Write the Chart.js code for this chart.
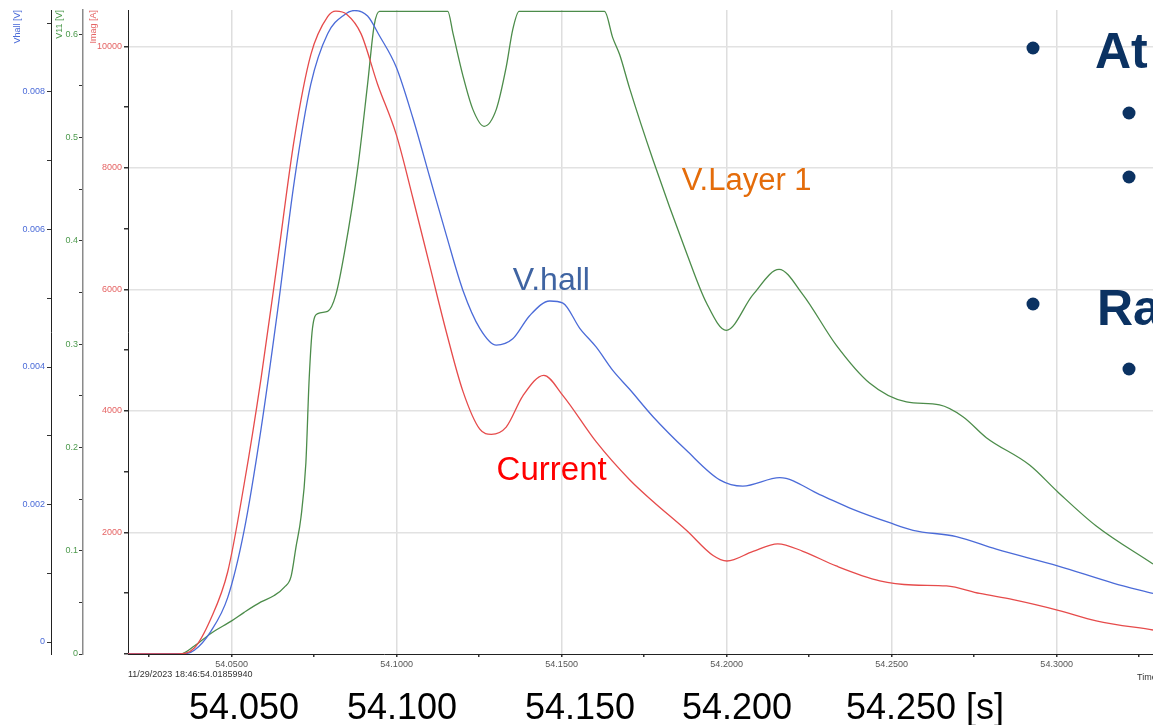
<!DOCTYPE html>
<html>
<head>
<meta charset="utf-8">
<script src="https://cdn.jsdelivr.net/npm/chart.js@4.4.1/dist/chart.umd.min.js"></script>
<style>
  html, body { margin: 0; padding: 0; background: #fff; }
  #wrap { width: 1153px; height: 725px; }
</style>
</head>
<body>
<div id="wrap"><canvas id="pulseChart" width="1153" height="725"></canvas></div>
<script>
// readings taken off the scope screenshot
const currentTime = [54.0185, 54.0336, 54.0387, 54.0437, 54.0488, 54.0538, 54.0589, 54.0639, 54.0690, 54.0740,
  54.0791, 54.0816, 54.0850, 54.0892, 54.0942, 54.0999, 54.1049, 54.1100, 54.1151, 54.1201, 54.1252, 54.1287,
  54.1332, 54.1383, 54.1446, 54.1504, 54.1605, 54.1706, 54.1777, 54.1878, 54.1959, 54.2001, 54.2080, 54.2155,
  54.2231, 54.2332, 54.2464, 54.2565, 54.2666, 54.2767, 54.2868, 54.3005, 54.3120, 54.3292];
const currentAmps = [0, 0, 99, 581, 1350, 2798, 4530, 6470, 8480, 9865,
  10490, 10580, 10523, 10211, 9383, 8548, 7510, 6400, 5292, 4323, 3700, 3616,
  3735, 4253, 4586, 4253, 3490, 2868, 2510, 2036, 1620, 1531, 1690, 1814,
  1690, 1449, 1205, 1136, 1121, 997, 894, 719, 547, 395];

const vhallTime = [54.0185, 54.0357, 54.0387, 54.0437, 54.0488, 54.0538, 54.0589, 54.0639, 54.0690, 54.0740,
  54.0791, 54.0842, 54.0872, 54.0912, 54.0948, 54.0999, 54.1049, 54.1100, 54.1151, 54.1201, 54.1252, 54.1302,
  54.1352, 54.1403, 54.1464, 54.1504, 54.1555, 54.1605, 54.1655, 54.1706, 54.1777, 54.1878, 54.1979, 54.2049,
  54.2161, 54.2282, 54.2383, 54.2494, 54.2565, 54.2696, 54.2817, 54.3005, 54.3171, 54.3292];
const vhallVolts = [-0.00017, -0.00017, -0.00012, 0.000156, 0.000646, 0.001625, 0.003094, 0.004809, 0.006705, 0.008113,
  0.008848, 0.009125, 0.009185, 0.009105, 0.008818, 0.00836, 0.007625, 0.006767, 0.00591, 0.005114, 0.004563, 0.004319,
  0.00441, 0.004746, 0.00496, 0.00493, 0.004563, 0.004288, 0.00395, 0.003676, 0.003277, 0.002788, 0.002359, 0.002268,
  0.00239, 0.002145, 0.00193, 0.001735, 0.001625, 0.001533, 0.00135, 0.001105, 0.000858, 0.000707];

const v11Time = [54.0185, 54.0345, 54.0387, 54.0437, 54.0500, 54.0538, 54.0589, 54.0629, 54.0660, 54.0680,
  54.0695, 54.0710, 54.0725, 54.0735, 54.0745, 54.0761, 54.0791, 54.0816, 54.0842, 54.0882, 54.0912, 54.0932,
  54.0948, 54.1155, 54.1171, 54.1201, 54.1231, 54.1265, 54.1302, 54.1332, 54.1352, 54.1371, 54.1630, 54.1655,
  54.1676, 54.1706, 54.1777, 54.1878, 54.1939, 54.1999, 54.2080, 54.2159, 54.2231, 54.2332, 54.2433, 54.2545,
  54.2645, 54.2716, 54.2787, 54.2918, 54.3005, 54.3120, 54.3292];
const v11Volts = [0, 0, 0.0077, 0.0199, 0.0321, 0.0403, 0.0504, 0.0566, 0.0648, 0.0749,
  0.1035, 0.1319, 0.1849, 0.2664, 0.3153, 0.3295, 0.3317, 0.3479, 0.3887, 0.4701, 0.5516, 0.6086,
  0.622, 0.622, 0.6005, 0.5597, 0.5272, 0.5108, 0.5272, 0.568, 0.6046, 0.622, 0.622, 0.5964,
  0.580, 0.5475, 0.4782, 0.3887, 0.3398, 0.3133, 0.3479, 0.3723, 0.3479, 0.299, 0.2623, 0.244,
  0.2411, 0.2297, 0.2094, 0.1829, 0.1564, 0.1239, 0.0871];

// Imag axis ticks (labelled every 2000)
const imagTickValues = [0, 1000, 2000, 3000, 4000, 5000, 6000, 7000, 8000, 9000, 10000];

// in-plot captions, placed in time / amps
const captionText = ['V.Layer 1', 'V.hall', 'Current'];
const captionTime = [54.1864, 54.1352, 54.1303];
const captionAmps = [7638, 5992, 2864];

const bigTimeLabels = ['54.050', '54.100', '54.150', '54.200', '54.250 [s]'];
const timestampText = '11/29/2023 18:46:54.01859940';

const RED = '#e64b4b';
const BLUE = '#4b6bd8';
const GREEN = '#4c8c4a';
const NAVY = '#0b3262';
const smallFont = { family: '"Liberation Sans", Arial, sans-serif', size: 9 };

function pts(xs, ys) {
    return xs.map((x, i) => ({ x: x, y: ys[i] }));
}

const overlayPlugin = {
    id: 'overlay',
    afterDraw(chart) {
        const { ctx, scales } = chart;
        ctx.save();

        // series captions
        const capColors = ['#e46c0a', '#3f64a2', '#ff0000'];
        const capSizes = [31, 32, 33];
        ctx.textAlign = 'left';
        ctx.textBaseline = 'alphabetic';
        captionText.forEach((t, i) => {
            ctx.font = capSizes[i] + 'px "Liberation Sans", Arial, sans-serif';
            ctx.fillStyle = capColors[i];
            ctx.fillText(t, scales.x.getPixelForValue(captionTime[i]), scales.yImag.getPixelForValue(captionAmps[i]));
        });

        // footer texts
        ctx.font = '9px "Liberation Sans", Arial, sans-serif';
        ctx.fillStyle = '#333';
        ctx.textBaseline = 'middle';
        ctx.fillText(timestampText, 128, 675);
        ctx.fillText('Time [s]', 1137, 678);

        ctx.font = '36px "Liberation Sans", Arial, sans-serif';
        ctx.fillStyle = '#000';
        ctx.textBaseline = 'alphabetic';
        const bigX = [189, 347, 525, 682, 846];
        bigTimeLabels.forEach((t, i) => ctx.fillText(t, bigX[i], 719));

        // slide bullets on the right
        ctx.fillStyle = NAVY;
        [[1033, 48], [1033, 304], [1129, 113], [1129, 177], [1129, 369]].forEach(p => {
            ctx.beginPath(); ctx.arc(p[0], p[1], 6.5, 0, Math.PI * 2); ctx.fill();
        });
        ctx.font = 'bold 50px "Liberation Sans", Arial, sans-serif';
        ctx.fillText('At', 1095, 68);
        ctx.fillText('Ra', 1097, 325);

        ctx.restore();
    }
};

new Chart(document.getElementById('pulseChart'), {
    type: 'line',
    data: {
        datasets: [
            { label: 'Imag', data: pts(currentTime, currentAmps), yAxisID: 'yImag', borderColor: RED },
            { label: 'Vhall', data: pts(vhallTime, vhallVolts), yAxisID: 'yVhall', borderColor: BLUE },
            { label: 'V11', data: pts(v11Time, v11Volts), yAxisID: 'yV11', borderColor: GREEN }
        ]
    },
    options: {
        responsive: false,
        animation: false,
        layout: { padding: { top: 10, left: 0, right: 0, bottom: 0 } },
        elements: {
            point: { radius: 0 },
            line: { borderWidth: 1.3, cubicInterpolationMode: 'monotone', fill: false }
        },
        plugins: {
            legend: { display: false },
            tooltip: { enabled: false }
        },
        scales: {
            x: {
                type: 'linear',
                min: 54.0186,
                max: 54.3292,
                ticks: {
                    stepSize: 0.025,
                    includeBounds: false,
                    autoSkip: false,
                    maxRotation: 0,
                    padding: 2,
                    color: '#555',
                    font: smallFont,
                    callback: v => (Math.round(v * 1000) % 50 === 0) ? v.toFixed(4) : ''
                },
                grid: {
                    color: c => (Math.round(c.tick.value * 1000) % 50 === 0) ? '#dedede' : 'rgba(0,0,0,0)',
                    lineWidth: 1.5,
                    tickColor: '#333',
                    tickLength: 3
                },
                border: { color: '#222', width: 1 },
                afterFit: s => { s.height = 71; }
            },
            yVhall: {
                type: 'linear',
                position: 'left',
                weight: 3,
                min: -0.0001745,
                max: 0.0091927,
                ticks: {
                    stepSize: 0.001,
                    includeBounds: false,
                    padding: 2,
                    color: BLUE,
                    font: smallFont,
                    callback: v => {
                        const k = Math.round(v * 1000);
                        if (k % 2 !== 0) return '';
                        return k === 0 ? '0' : (k / 1000).toFixed(3);
                    }
                },
                grid: { drawOnChartArea: false, tickColor: '#333', tickLength: 4 },
                border: { color: '#222', width: 1 },
                title: { display: true, text: 'Vhall [V]', align: 'end', color: BLUE, font: smallFont, padding: { top: 12, bottom: 0 } },
                afterFit: s => { s.width = 51; }
            },
            yV11: {
                type: 'linear',
                position: 'left',
                weight: 2,
                min: 0,
                max: 0.6234,
                ticks: {
                    stepSize: 0.05,
                    includeBounds: false,
                    padding: 1,
                    color: '#4d9a4d',
                    font: smallFont,
                    callback: v => {
                        const k = Math.round(v * 100);
                        if (k % 10 !== 0) return '';
                        return k === 0 ? '0' : (k / 100).toFixed(1);
                    }
                },
                grid: { drawOnChartArea: false, tickColor: '#333', tickLength: 4 },
                border: { color: '#8a8a8a', width: 1.5 },
                title: { display: true, text: 'V11 [V]', align: 'end', color: '#4d9a4d', font: smallFont, padding: { top: 3, bottom: 0 } },
                afterFit: s => { s.width = 32; }
            },
            yImag: {
                type: 'linear',
                position: 'left',
                weight: 1,
                min: 0,
                max: 10600,
                afterBuildTicks: s => { s.ticks = imagTickValues.map(v => ({ value: v })); },
                ticks: {
                    padding: 2,
                    color: '#e56464',
                    font: smallFont,
                    callback: v => (v > 0 && v % 2000 === 0) ? String(v) : ''
                },
                grid: {
                    color: c => (c.tick && c.tick.value > 0 && c.tick.value % 2000 === 0) ? '#e2e2e2' : 'rgba(0,0,0,0)',
                    lineWidth: 1.5,
                    tickColor: '#333',
                    tickLength: 4
                },
                border: { color: '#222', width: 1 },
                title: { display: true, text: 'Imag [A]', align: 'end', color: '#e56464', font: smallFont, padding: { top: 5, bottom: 0 } },
                afterFit: s => { s.width = 45; }
            }
        }
    },
    plugins: [overlayPlugin]
});
</script>
</body>
</html>
